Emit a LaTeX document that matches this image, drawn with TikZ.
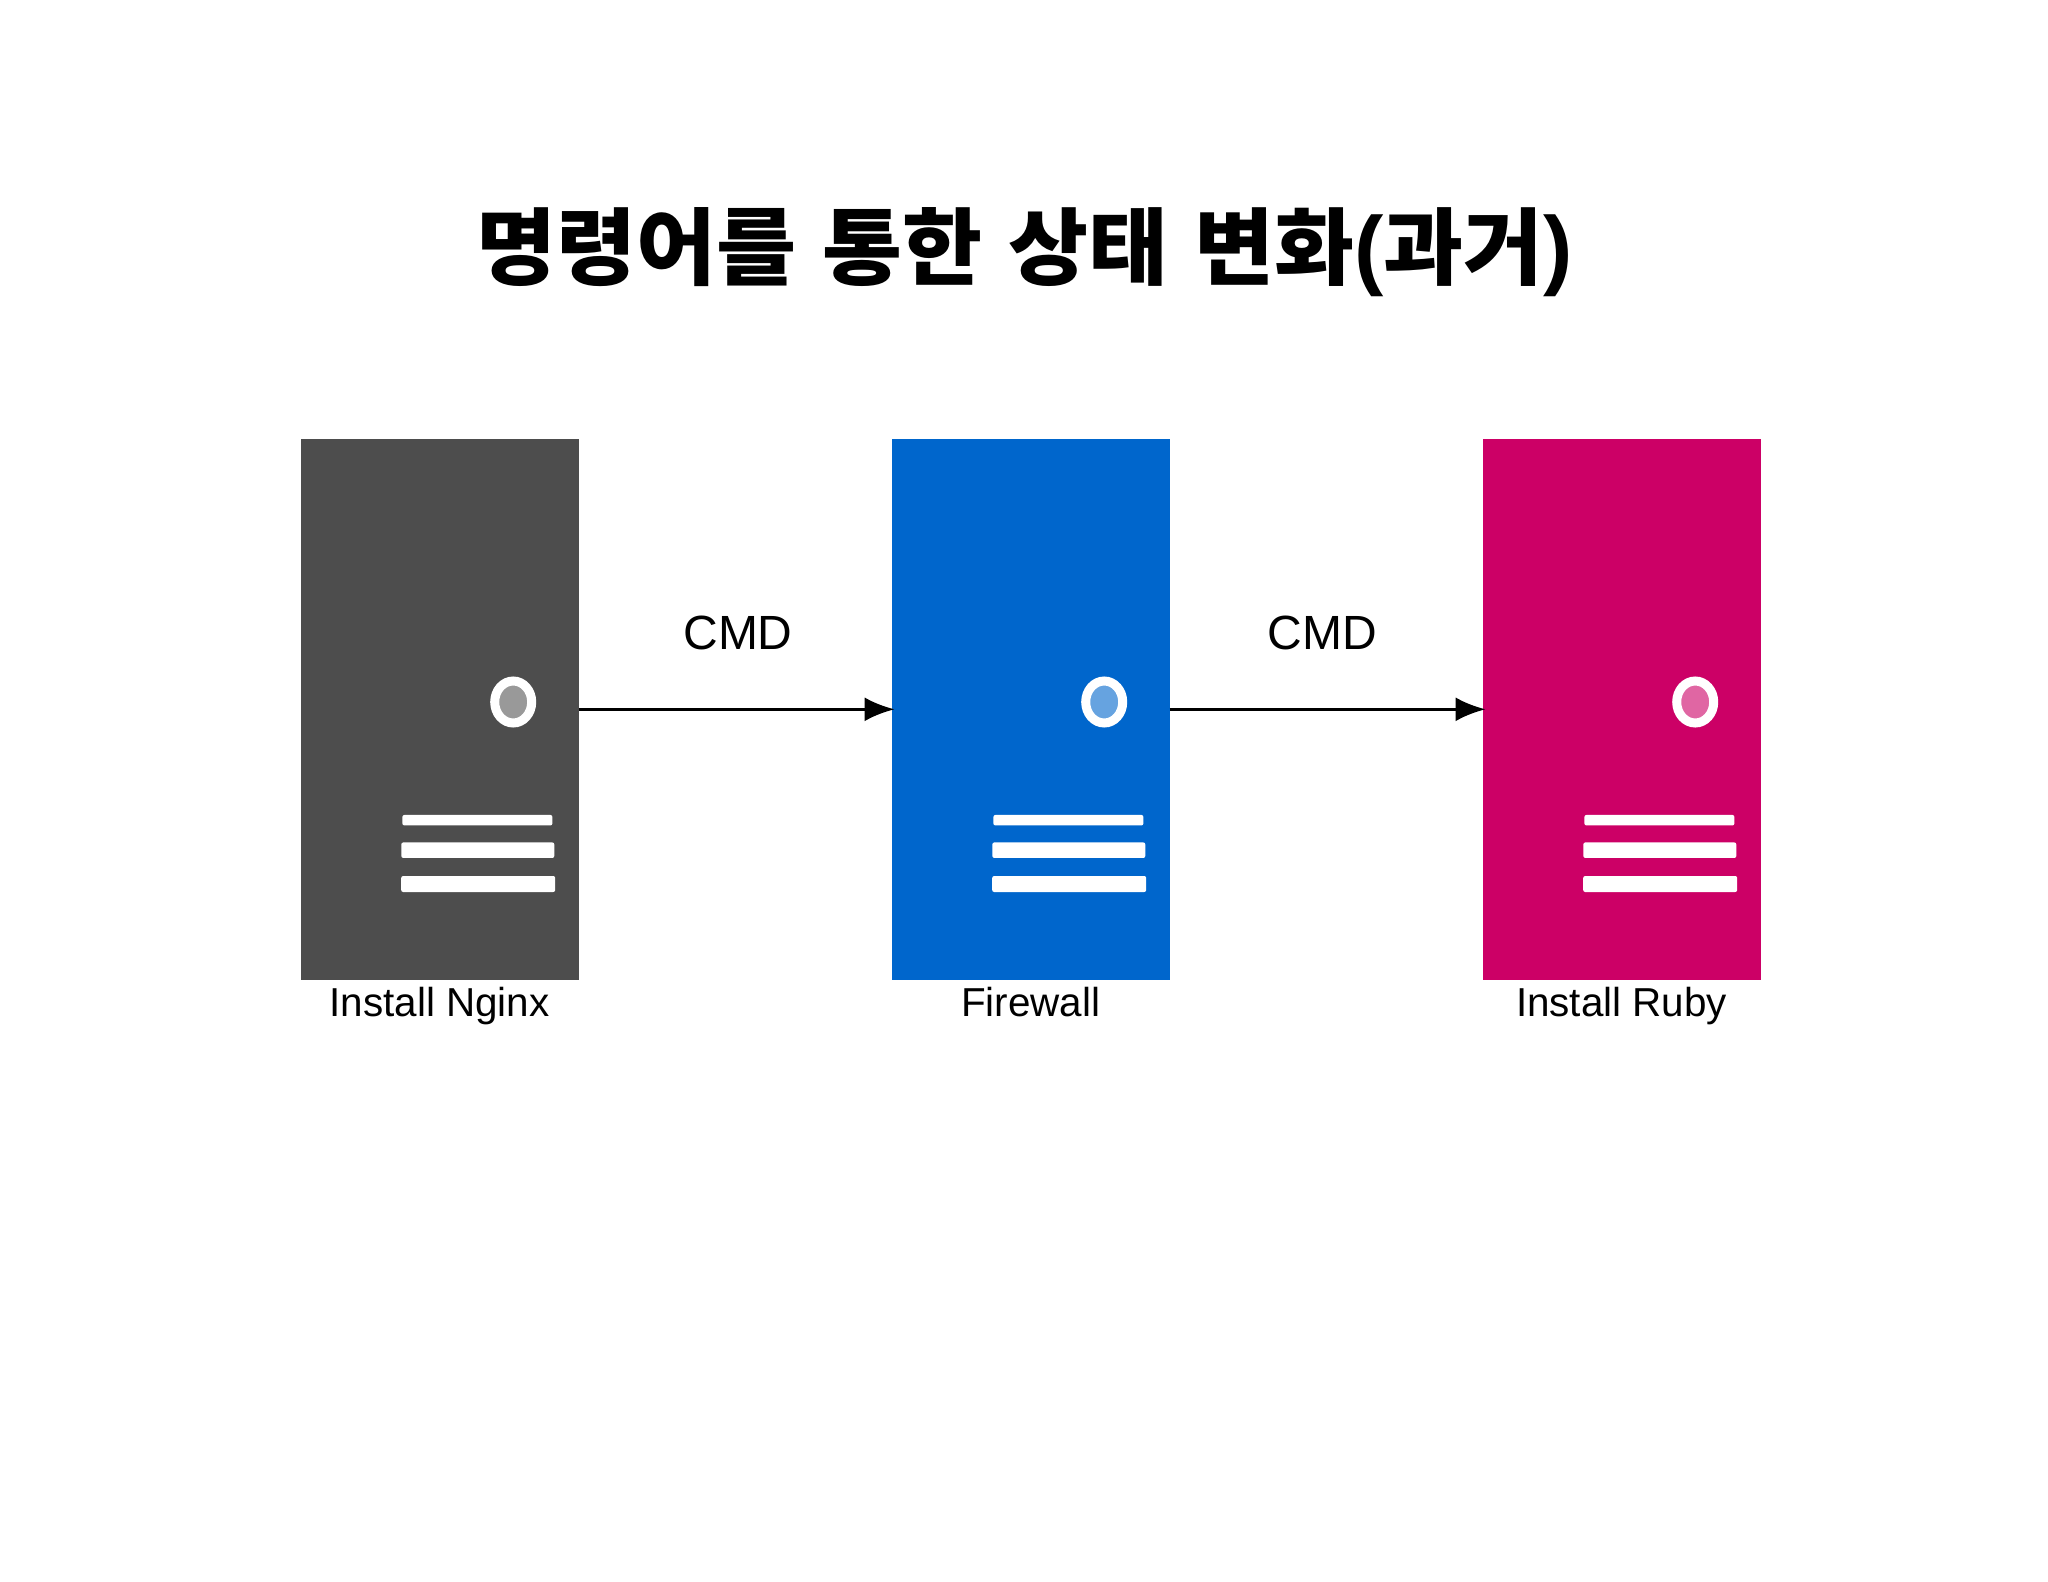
\documentclass[tikz,border=0pt]{standalone}
\usepackage{fontspec}
\setmainfont{Liberation Sans}
\newfontfamily\cjk{Noto Sans CJK KR}[FakeStretch=1.035, WordSpace=1.3]
\usetikzlibrary{shapes.geometric, arrows.meta, positioning, calc}
\definecolor{srvgray}{HTML}{4D4D4D}
\definecolor{srvblue}{HTML}{0066CC}
\definecolor{srvpink}{HTML}{CC0066}
\definecolor{ledgray}{HTML}{999999}
\definecolor{ledblue}{HTML}{66A3E0}
\definecolor{ledpink}{HTML}{E066A3}
\tikzset{
	server/.style={minimum width=139pt, minimum height=270.3pt, inner sep=0pt, outer sep=0pt},
	led/.style={ellipse, draw=white, line width=4.5pt, minimum width=18.5pt, minimum height=21pt, inner sep=0pt, outer sep=0pt},
	slot/.style={fill=white, rounded corners=1pt, inner sep=0pt, outer sep=0pt},
	caption/.style={font=\fontsize{20.2}{24}\selectfont, inner sep=0pt},
	cmd/.style={font=\fontsize{24}{28}\selectfont, inner sep=0pt},
	flow/.style={-{Latex[length=15pt,width=12pt]}, line width=1.7pt, shorten >=-1.5pt}
}
\begin{document}
\begin{tikzpicture}[node distance=156.5pt]
	\useasboundingbox (0,0) rectangle (1024pt,-791pt);
	\node[font=\cjk\bfseries\fontsize{42}{50}\selectfont, inner sep=0pt] (title) at (512.5pt,-126pt) {명령어를 통한 상태 변화{\rmfamily\fontsize{44}{50}\selectfont(}과거{\rmfamily\fontsize{44}{50}\selectfont)}};
	\node[server, fill=srvgray, anchor=north west] (nginx) at (150.3pt,-219.5pt) {};
	\node[server, fill=srvblue, right=of nginx] (firewall) {};
	\node[server, fill=srvpink, right=of firewall] (ruby) {};
	\foreach \srv/\col in {nginx/ledgray, firewall/ledblue, ruby/ledpink} {
		\node[led, fill=\col] (\srv-led) at ($(\srv.north west)+(106.3pt,-131.5pt)$) {};
		\node[slot, minimum width=75pt, minimum height=5.25pt] (\srv-slota) at ($(\srv.north west)+(88.4pt,-190.6pt)$) {};
		\node[slot, minimum width=76.5pt, minimum height=7.75pt] (\srv-slotb) at ($(\srv.north west)+(88.6pt,-205.6pt)$) {};
		\node[slot, minimum width=77pt, minimum height=8pt] (\srv-slotc) at ($(\srv.north west)+(88.8pt,-222.5pt)$) {};
	}
	\node[caption, below=3.5pt of nginx] (nginxname) {Install Nginx};
	\node[caption, below=3.5pt of firewall] (firewallname) {Firewall};
	\node[caption, below=3.5pt of ruby] (rubyname) {Install Ruby};
	\foreach \from/\to in {nginx/firewall, firewall/ruby}
		\draw[flow] (\from) -- (\to);
	\node[cmd] (cmdone) at (369pt,-316.5pt) {CMD};
	\node[cmd] (cmdtwo) at (661pt,-316.5pt) {CMD};
\end{tikzpicture}
\end{document}
